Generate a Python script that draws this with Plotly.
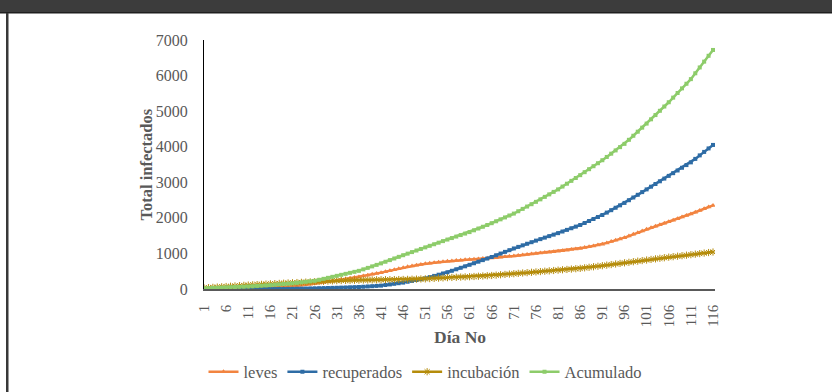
import plotly.graph_objects as go

days = list(range(1, 117))
tick_days = list(range(1, 117, 5))
tick_labels = [str(d) for d in tick_days]

leves = [0, 0, 0, 0, 0, 0,
         0, 1, 2, 3, 5,
         10, 15, 20, 25, 30,
         40, 50, 60, 70, 80,
         94, 108, 122, 136, 150,
         168, 186, 204, 222, 240,
         260, 280, 300, 320, 340,
         364, 388, 412, 436, 460,
         488, 516, 544, 572, 600,
         622, 644, 666, 688, 710,
         724, 738, 752, 766, 780,
         790, 800, 810, 820, 830,
         838, 846, 854, 862, 870,
         882, 894, 906, 918, 930,
         944, 958, 972, 986, 1000,
         1012, 1024, 1036, 1048, 1060,
         1076, 1092, 1108, 1124, 1140,
         1164, 1188, 1212, 1236, 1260,
         1296, 1332, 1368, 1404, 1440,
         1488, 1536, 1584, 1632, 1680,
         1722, 1764, 1806, 1848, 1890,
         1934, 1978, 2022, 2066, 2110,
         2158, 2206, 2254, 2302, 2350]

recuperados = [0, 0, 0, 0, 0, 0, 0, 0, 0, 0, 0, 0, 0, 0, 0, 0,
               1, 2, 3, 4, 5,
               8, 11, 14, 17, 20,
               23, 26, 29, 32, 35,
               39, 43, 47, 51, 55,
               63, 71, 79, 87, 95,
               112, 129, 146, 163, 180,
               204, 228, 252, 276, 300,
               334, 368, 402, 436, 470,
               512, 554, 596, 638, 680,
               724, 768, 812, 856, 900,
               948, 996, 1044, 1092, 1140,
               1184, 1228, 1272, 1316, 1360,
               1402, 1444, 1486, 1528, 1570,
               1616, 1662, 1708, 1754, 1800,
               1856, 1912, 1968, 2024, 2080,
               2148, 2216, 2284, 2352, 2420,
               2496, 2572, 2648, 2724, 2800,
               2876, 2952, 3028, 3104, 3180,
               3256, 3332, 3408, 3484, 3560,
               3658, 3756, 3854, 3952, 4050]

incubacion = [30, 38, 46, 54, 62, 70,
              78, 86, 94, 102, 110,
              117, 124, 131, 138, 145,
              151, 157, 163, 169, 175,
              181, 187, 193, 199, 205,
              211, 217, 223, 229, 235,
              238, 241, 244, 247, 250,
              252, 254, 256, 258, 260,
              262, 263, 265, 266, 268,
              271, 275, 278, 282, 285,
              292, 299, 306, 313, 320,
              325, 330, 335, 340, 345,
              352, 359, 366, 373, 380,
              390, 400, 410, 420, 430,
              440, 450, 460, 470, 480,
              490, 500, 510, 520, 530,
              540, 550, 560, 570, 580,
              595, 610, 625, 640, 655,
              671, 687, 703, 719, 735,
              751, 767, 783, 799, 815,
              831, 847, 863, 879, 895,
              909, 923, 937, 951, 965,
              980, 995, 1010, 1025, 1040]

acumulado = [20, 25, 30, 35, 40, 45,
             50, 55, 60, 65, 70,
             78, 86, 94, 102, 110,
             120, 130, 140, 150, 160,
             174, 188, 202, 216, 230,
             258, 286, 314, 342, 370,
             398, 426, 454, 482, 510,
             552, 594, 636, 678, 720,
             766, 812, 858, 904, 950,
             994, 1038, 1082, 1126, 1170,
             1214, 1258, 1302, 1346, 1390,
             1432, 1474, 1516, 1558, 1600,
             1650, 1700, 1750, 1800, 1850,
             1904, 1958, 2012, 2066, 2120,
             2186, 2252, 2318, 2384, 2450,
             2520, 2590, 2660, 2730, 2800,
             2880, 2960, 3040, 3120, 3200,
             3284, 3368, 3452, 3536, 3620,
             3712, 3804, 3896, 3988, 4080,
             4194, 4308, 4422, 4536, 4650,
             4770, 4890, 5010, 5130, 5250,
             5380, 5510, 5640, 5770, 5900,
             6064, 6228, 6392, 6556, 6720]

for s in (leves, recuperados, incubacion, acumulado):
    assert len(s) == len(days)

FONT = "Liberation Serif, Times New Roman, serif"
GRAY = "#595959"

fig = go.Figure()
fig.add_trace(go.Scatter(x=days, y=leves, name="leves", mode="lines+markers",
                         line=dict(color="#F28440", width=2.5),
                         marker=dict(symbol="triangle-up", size=5, color="#F28440")))
fig.add_trace(go.Scatter(x=days, y=recuperados, name="recuperados", mode="lines+markers",
                         line=dict(color="#2E6CA5", width=2.5),
                         marker=dict(symbol="square", size=4, color="#2E6CA5")))
fig.add_trace(go.Scatter(x=days, y=incubacion, name="incubación", mode="lines+markers",
                         line=dict(color="#B58C0B", width=2.5),
                         marker=dict(symbol="asterisk", size=6, color="#B58C0B",
                                     line=dict(color="#B58C0B", width=1))))
fig.add_trace(go.Scatter(x=days, y=acumulado, name="Acumulado", mode="lines+markers",
                         line=dict(color="#8DCC6A", width=2.5),
                         marker=dict(symbol="square", size=4, color="#8DCC6A")))

L, R, T, B = 204, 117, 40, 103
PW, PH = 832 - L - R, 392 - T - B


def px(xp):
    return (xp - L) / PW


def py(yp):
    return (392 - B - yp) / PH


shapes = [
    dict(type="rect", xref="paper", yref="paper", x0=px(-10), x1=px(845),
         y0=py(12), y1=py(-10), fillcolor="#3c3c3c", line=dict(width=0), layer="above"),
    dict(type="rect", xref="paper", yref="paper", x0=px(-10), x1=px(845),
         y0=py(13.5), y1=py(12), fillcolor="#1f1f1f", line=dict(width=0), layer="above"),
    dict(type="rect", xref="paper", yref="paper", x0=px(6), x1=px(8.5),
         y0=py(400), y1=py(13), fillcolor="#383838", line=dict(width=0), layer="above"),
]

annotations = [
    dict(text="<b>Total infectados</b>", xref="paper", yref="paper",
         x=px(146), y=0.5, xanchor="center", yanchor="middle", textangle=-90,
         showarrow=False, font=dict(family=FONT, size=16.5, color=GRAY)),
    dict(text="<b>Día No</b>", xref="paper", yref="paper",
         x=px(460), y=py(337), xanchor="center", yanchor="middle",
         showarrow=False, font=dict(family=FONT, size=17.5, color=GRAY)),
]

fig.update_layout(
    width=832, height=392,
    margin=dict(l=L, r=R, t=T, b=B, pad=0, autoexpand=False),
    paper_bgcolor="white", plot_bgcolor="white",
    shapes=shapes, annotations=annotations,
    font=dict(family=FONT, color=GRAY),
    legend=dict(orientation="h", x=px(425), xanchor="center", y=py(372), yanchor="middle",
                font=dict(family=FONT, size=16.5, color=GRAY), itemwidth=30,
                bgcolor="rgba(0,0,0,0)"),
    xaxis=dict(range=[1, 116.45], tickmode="array", tickvals=tick_days, ticktext=tick_labels,
               tickangle=-90, showline=True, linecolor="#595959", linewidth=1.5,
               showgrid=False, zeroline=False, ticks="", ticklabelstandoff=8,
               tickfont=dict(family=FONT, size=15, color=GRAY)),
    yaxis=dict(range=[0, 7000], dtick=1000, tick0=0, tickformat="d",
               showline=True, linecolor="black", linewidth=1,
               showgrid=False, zeroline=False, ticks="", ticklabelstandoff=12,
               tickfont=dict(family=FONT, size=16, color=GRAY)),
)

fig.write_html("out.html")
